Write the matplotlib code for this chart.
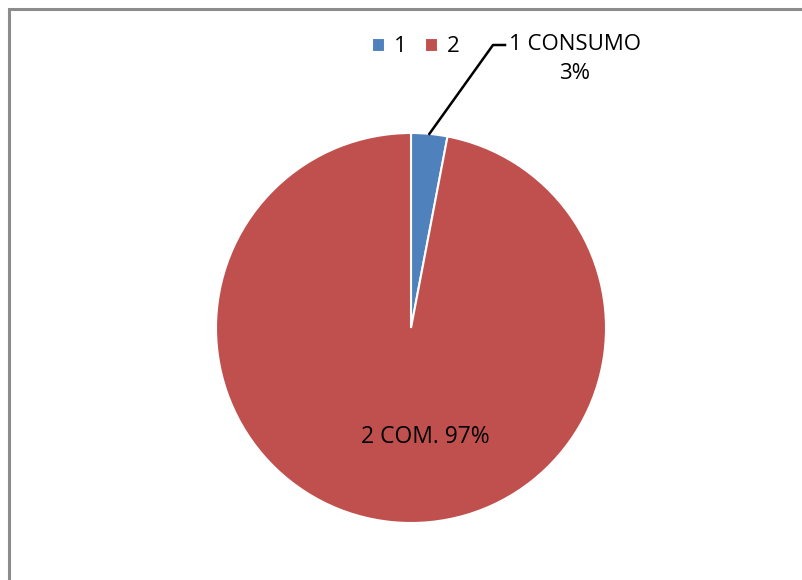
import numpy as np
import matplotlib.pyplot as plt
from matplotlib.patches import Rectangle

plt.rcParams['font.family'] = ['Open Sans', 'DejaVu Sans']

categories = ['1', '2']
values = [3, 97]
slice_labels = ['1 CONSUMO\n3%', '2 COM. 97%']
colors = ['#4F81BD', '#C0504D']

W, H = 802, 580
fig = plt.figure(figsize=(W / 100, H / 100), dpi=100)
ax = fig.add_axes([0, 0, 1, 1])

# frame of the chart area (cut at the right and bottom)
ax.add_patch(Rectangle((8.5, -10), W + 20, H - 8.5 + 10, fill=False,
                       edgecolor='#8c8c8c', linewidth=2.2))

cx, cy, r = 411, H - 328, 195
wedges, _ = ax.pie(values, colors=colors, startangle=90, counterclock=False,
                   center=(cx, cy), radius=r, frame=True,
                   wedgeprops=dict(edgecolor='white', linewidth=1.5))
ax.set_xlim(0, W)
ax.set_ylim(0, H)
ax.set_aspect('equal')
ax.axis('off')

# label for slice 1 with leader line
mid = np.deg2rad(90 - values[0] / sum(values) * 360 / 2)
px, py = cx + r * np.cos(mid), cy + r * np.sin(mid)
ax.plot([px, 493, 505], [py, H - 45, H - 45], color='black', linewidth=1.8)
ax.text(575, H - 59, slice_labels[0], ha='center', va='center',
        fontsize=16, linespacing=1.5)

# label for slice 2 inside
ax.text(425, H - 437, slice_labels[1], ha='center', va='center', fontsize=16.5)

ax.legend(wedges, categories, loc='center', bbox_to_anchor=(416 / W, 1 - 47 / H),
          ncol=2, frameon=False, fontsize=16, handlelength=0.6, handleheight=0.6,
          handletextpad=0.4, columnspacing=0.8)

fig.savefig('out.png', dpi=100)
